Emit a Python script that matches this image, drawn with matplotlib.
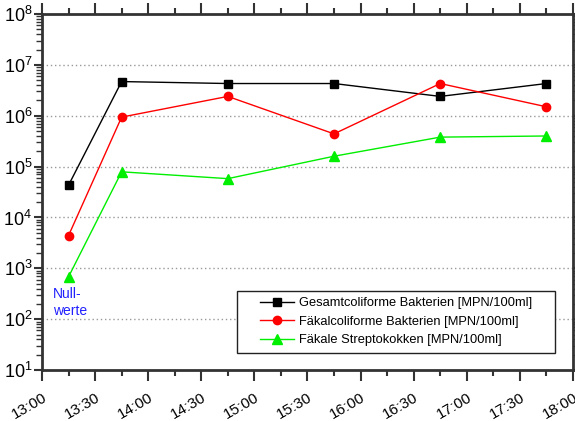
import matplotlib
matplotlib.use("Agg")
import matplotlib.pyplot as plt
from matplotlib.patches import Rectangle
from matplotlib.ticker import LogLocator, FixedLocator, NullFormatter

plt.rcParams['font.family'] = ['Liberation Sans', 'DejaVu Sans']

times = ["13:15", "13:45", "14:45", "15:45", "16:45", "17:45"]
gesamt = [4.3e4, 4.7e6, 4.3e6, 4.3e6, 2.4e6, 4.3e6]
faekal = [4.4e3, 9.4e5, 2.4e6, 4.4e5, 4.3e6, 1.5e6]
strepto = [6.8e2, 7.9e4, 5.8e4, 1.6e5, 3.8e5, 4.0e5]
xtick_labels = ["13:00", "13:30", "14:00", "14:30", "15:00", "15:30",
                "16:00", "16:30", "17:00", "17:30", "18:00"]
series_names = ["Gesamtcoliforme Bakterien [MPN/100ml]",
                "Fäkalcoliforme Bakterien [MPN/100ml]",
                "Fäkale Streptokokken [MPN/100ml]"]


def to_h(s):
    h, m = s.split(":")
    return int(h) + int(m) / 60.0


x = [to_h(t) for t in times]
xt = [to_h(t) for t in xtick_labels]

fig = plt.figure(figsize=(5.75, 4.21), dpi=100)
ax = fig.add_axes([0.073, 0.121, 0.9235, 0.8457])

ax.plot(x, gesamt, color='black', lw=1, marker='s', ms=5.5, label=series_names[0])
ax.plot(x, faekal, color='#ff0000', lw=1, marker='o', ms=6, label=series_names[1])
ax.plot(x, strepto, color='#00ee00', lw=1, marker='^', ms=7.5, label=series_names[2])

ax.set_yscale('log')
ax.set_ylim(10, 1e8)
ax.set_xlim(xt[0], xt[-1])

ax.yaxis.set_major_locator(LogLocator(base=10, numticks=20))
ax.yaxis.set_minor_locator(LogLocator(base=10, subs=range(2, 10), numticks=100))
ax.yaxis.set_minor_formatter(NullFormatter())
for v in [1e2, 1e3, 1e4, 1e5, 1e6, 1e7]:
    ax.axhline(v, color='#999999', lw=1, ls=(0, (1, 2)), zorder=0)

ax.xaxis.set_major_locator(FixedLocator(xt))
ax.set_xticklabels(xtick_labels, rotation=30, ha='right', rotation_mode='anchor')
minor_x = [xt[0] + 0.25 + 0.5 * i for i in range(10)]
ax.xaxis.set_minor_locator(FixedLocator(minor_x))

for s in ax.spines.values():
    s.set_linewidth(2)
    s.set_color('#333333')

ax.tick_params(axis='both', which='both', top=True, right=True, color='#333333')
ax.tick_params(axis='y', which='major', direction='out', length=6, width=1.5, labelsize=13, pad=1)
ax.tick_params(axis='y', which='minor', direction='out', length=4, width=1)
ax.tick_params(axis='x', which='major', direction='out', length=8, width=1.5, labelsize=11, pad=7)
ax.tick_params(axis='x', which='minor', direction='out', length=4, width=1.5)

ax.text(13.104, 215, "Null-\nwerte", color='#2020ff', fontsize=10, va='center', ha='left',
        linespacing=1.25)

# legend frame box
ax.add_patch(Rectangle((0.367, 0.048), 0.599, 0.175, transform=ax.transAxes,
                       facecolor='white', edgecolor='#222222', lw=1, zorder=4))
leg = ax.legend(loc='center', bbox_to_anchor=(0.6667, 0.1357), fontsize=9.3,
                frameon=False, handlelength=2.6, handletextpad=0.4,
                borderpad=0.0, labelspacing=0.5, borderaxespad=0)
leg.set_zorder(5)

fig.savefig("out.png", dpi=100)
